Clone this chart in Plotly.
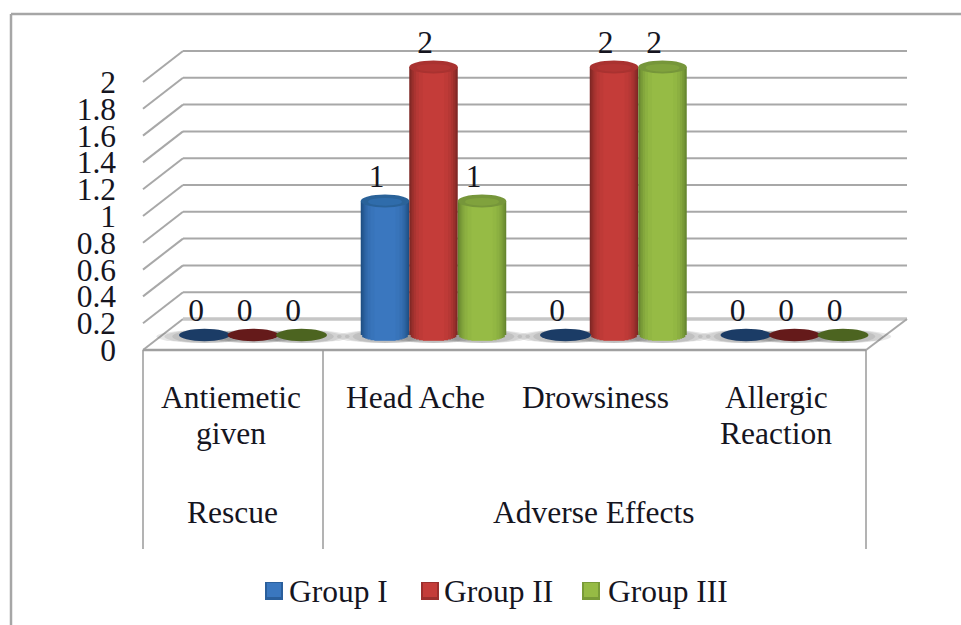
import plotly.graph_objects as go

# Data
groups = ["Group I", "Group II", "Group III"]
group_i = [0, 1, 0, 0]
group_ii = [0, 2, 2, 0]
group_iii = [0, 1, 2, 0]
categories = [["Antiemetic", "given"], ["Head Ache"], ["Drowsiness"], ["Allergic", "Reaction"]]
sections = ["Rescue", "Adverse Effects"]
y_ticks = [0, 0.2, 0.4, 0.6, 0.8, 1, 1.2, 1.4, 1.6, 1.8, 2]
y_tick_text = ["0", "0.2", "0.4", "0.6", "0.8", "1", "1.2", "1.4", "1.6", "1.8", "2"]

# Palette: edge, centre, cap rim, cap centre, flat disc
palette = [
    ("#1f4f84", "#3a77bf", "#2a6299", "#2f6cab", "#1b3c66"),
    ("#7f2725", "#c43c39", "#a93230", "#b23533", "#651a1a"),
    ("#66862f", "#96bb45", "#76963a", "#80a23d", "#4c6420"),
]

W, H = 961, 625
PLOT_L, PLOT_R, PLOT_T, PLOT_B = 125, 930, 20, 615
X_PX, X_ORG = 180.5, 253.0   # pixels per category, pixel of category 0
Y_PX, Y_ORG = 134.0, 350.0   # pixels per unit, pixel of value 0


def dx(px):
    return (px - X_ORG) / X_PX


def dy(px):
    return (Y_ORG - px) / Y_PX


BAR_STEP = 0.2687
BAR_W = 0.2687
BASE = dy(335)       # cylinder foot sits in the middle of the floor depth
RY = 6.5 / Y_PX      # vertical radius of the cylinder ends
DEPTH_Y = dy(319) - dy(350)
FONT = "Liberation Serif"
TXT = "#15151f"
SIZE = 31.5


def blend(a, b, t):
    ca = [int(a[i:i + 2], 16) for i in (1, 3, 5)]
    cb = [int(b[i:i + 2], 16) for i in (1, 3, 5)]
    return "#" + "".join(f"{round(p + (q - p) * t):02x}" for p, q in zip(ca, cb))


series = [group_i, group_ii, group_iii]
x_positions = [[c + (g - 1) * BAR_STEP for c in range(4)] for g in range(3)]

shapes = []


def line(x0, y0, x1, y1, color="#a8a8a8", width=2):
    shapes.append(dict(type="line", xref="x", yref="y", x0=x0, y0=y0, x1=x1, y1=y1,
                       line=dict(color=color, width=width), layer="below"))


def oval(xc, yc, rx, ry, color, layer="below", opacity=1.0):
    shapes.append(dict(type="circle", xref="x", yref="y", x0=xc - rx, x1=xc + rx,
                       y0=yc - ry, y1=yc + ry, fillcolor=color, opacity=opacity,
                       line=dict(width=0), layer=layer))


# Back wall and left side wall
left_front, left_back, right_front, right_back = dx(143), dx(183), dx(866), dx(907)
for v in y_ticks[1:]:
    line(left_front, v, left_back, v + DEPTH_Y)
    line(left_back, v + DEPTH_Y, right_back, v + DEPTH_Y)

# Floor outline
line(left_front, 0, left_back, DEPTH_Y)
line(left_back, DEPTH_Y, right_back, DEPTH_Y, "#c6c6c6", 3.5)
line(right_front, 0, right_back, DEPTH_Y)
line(left_front, 0, right_front, 0, "#a0a0a0", 2.5)

# Category dividers under the floor
for px in (143, 323, 866):
    line(dx(px), 0, dx(px), dy(549), "#9a9a9a", 1.5)

# Soft floor shadows
for g in range(3):
    for xc, v in zip(x_positions[g], series[g]):
        for grow in (24, 16, 8):
            oval(xc, BASE - 1.5 / Y_PX, BAR_W / 2 + grow / X_PX, RY, "#606060", opacity=0.15)

traces = []
# Nested strips give each cylinder its rounded shading
fractions = [1.0, 0.94, 0.88, 0.81, 0.72, 0.60, 0.44]
shades = [0.0, 0.22, 0.42, 0.62, 0.8, 0.92, 1.0]
for g in range(3):
    edge, centre, rim, cap, disc = palette[g]
    values = series[g]
    for f, t in zip(fractions, shades):
        drop = RY * (1 - f * f) ** 0.5
        traces.append(go.Bar(
            x=x_positions[g],
            y=[v + drop if v > 0 else 0 for v in values],
            base=[BASE - drop] * 4,
            width=BAR_W * f,
            marker=dict(color=blend(edge, centre, t), line=dict(width=0)),
            name=groups[g],
            showlegend=False,
            hoverinfo="skip",
        ))
    for xc, v in zip(x_positions[g], values):
        if v > 0:
            oval(xc, BASE + v, BAR_W / 2, RY, rim, "above")
            oval(xc, BASE + v - 0.8 / Y_PX, BAR_W / 2 * 0.7, RY * 0.6, cap, "above")
        else:
            oval(xc, BASE, 25.5 / X_PX, RY * 0.95, disc, "above")

# Value labels sit up and to the left of each mark
for g in range(3):
    traces.append(go.Scatter(
        x=[x - 8.5 / X_PX for x in x_positions[g]],
        y=[BASE + v + 22 / Y_PX for v in series[g]],
        text=[str(v) for v in series[g]],
        mode="text",
        textposition="middle center",
        textfont=dict(family=FONT, size=SIZE, color=TXT),
        showlegend=False,
        hoverinfo="skip",
    ))

# Two-level category labels
annotations = []
label_x = [231, 415, 595, 776]
for px, lines in zip(label_x, categories):
    for i, txt in enumerate(lines):
        annotations.append(dict(x=dx(px), y=dy(397 + 36 * i), xref="x", yref="y", text=txt,
                                showarrow=False, font=dict(family=FONT, size=SIZE, color=TXT)))
for px, txt in zip((232, 593), sections):
    annotations.append(dict(x=dx(px), y=dy(512), xref="x", yref="y", text=txt,
                            showarrow=False, font=dict(family=FONT, size=SIZE, color=TXT)))

# Key below the chart: bevelled swatch plus label
key_swatch_px = (265, 421, 582)
key_text_px = (289, 444, 608)
for g, (sw, tx) in enumerate(zip(key_swatch_px, key_text_px)):
    edge, centre = palette[g][0], palette[g][1]
    shapes.append(dict(type="rect", xref="x", yref="y", x0=dx(sw), x1=dx(sw + 18),
                       y0=dy(600), y1=dy(582), fillcolor=blend(edge, centre, 0.4),
                       line=dict(width=0), layer="above"))
    shapes.append(dict(type="rect", xref="x", yref="y", x0=dx(sw + 2), x1=dx(sw + 16),
                       y0=dy(597), y1=dy(583), fillcolor=centre,
                       line=dict(width=0), layer="above"))
    annotations.append(dict(x=dx(tx), y=dy(591), xref="x", yref="y", xanchor="left",
                            xshift=-2, text=groups[g], showarrow=False,
                            font=dict(family=FONT, size=SIZE, color=TXT)))

# Outer frame
plot_w, plot_h = PLOT_R - PLOT_L, PLOT_B - PLOT_T


def px_x(px):
    return (px - PLOT_L) / plot_w


def px_y(px):
    return (PLOT_B - px) / plot_h


for x0, y0, x1, y1 in ((11, 14, 961, 14), (11, 14, 11, 625)):
    shapes.append(dict(type="line", xref="paper", yref="paper", x0=px_x(x0), y0=px_y(y0),
                       x1=px_x(x1), y1=px_y(y1), line=dict(color="#a6a6a6", width=2.5)))

fig = go.Figure(traces)
fig.update_layout(
    width=W, height=H,
    margin=dict(l=PLOT_L, r=W - PLOT_R, t=PLOT_T, b=H - PLOT_B, autoexpand=False),
    paper_bgcolor="white", plot_bgcolor="white",
    barmode="overlay",
    showlegend=False,
    shapes=shapes,
    annotations=annotations,
    font=dict(family=FONT, size=SIZE, color=TXT),
    xaxis=dict(range=[dx(PLOT_L), dx(PLOT_R)], showgrid=False, zeroline=False,
               showline=False, showticklabels=False, ticks=""),
    yaxis=dict(range=[dy(PLOT_B), dy(PLOT_T)], showgrid=False, zeroline=False, showline=False,
               tickmode="array", tickvals=y_ticks, ticktext=y_tick_text, ticks="",
               ticklabelstandoff=8, tickfont=dict(family=FONT, size=SIZE, color=TXT)),
)
fig.write_html("out.html", config=dict(displayModeBar=False))
